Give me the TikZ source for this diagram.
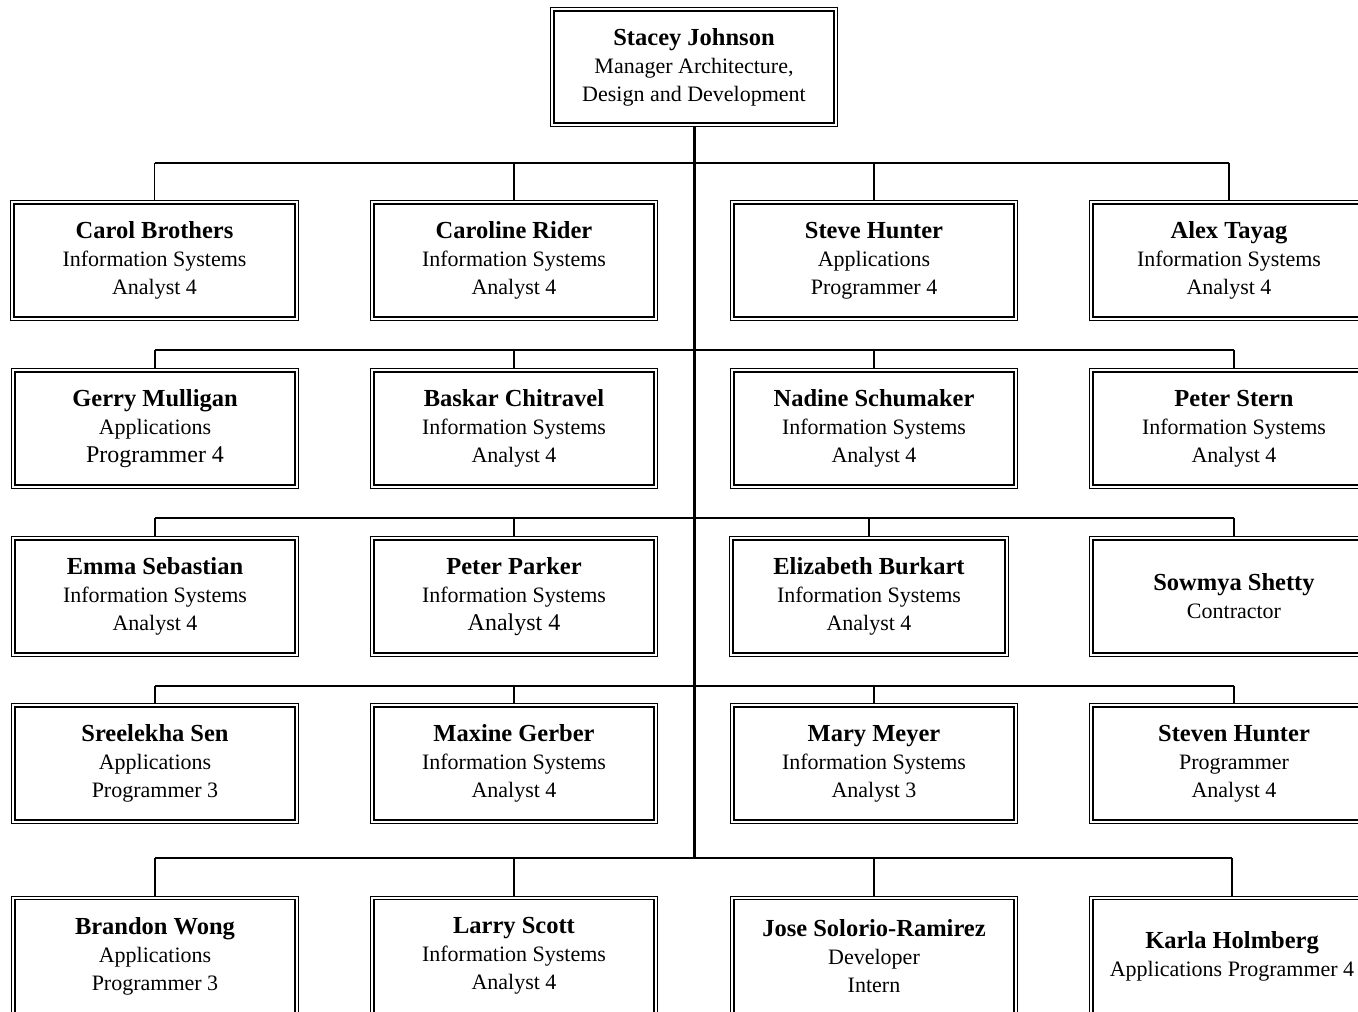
\documentclass[tikz,border=0pt]{standalone}
\usepackage{fontspec}
\setmainfont{Liberation Serif}
\usetikzlibrary{backgrounds}
\tikzset{
  pbox/.style={draw=black, double=white, double distance=2pt, line width=1.3pt,
    fill=white, inner sep=0pt, align=center, minimum height=116.4pt,
    minimum width=283.4pt, font=\fontsize{22}{28}\selectfont},
  busline/.style={line width=2pt},
  dropline/.style={line width=1.6pt},
  trunkline/.style={line width=3pt},
}
\newcommand{\nm}[1]{{\bfseries\fontsize{24.5}{28}\selectfont #1}}
\newcommand{\bigline}[1]{{\fontsize{24}{28}\selectfont #1}}
\begin{document}
\begin{tikzpicture}[x=1pt,y=-1pt]
\useasboundingbox (0,0) rectangle (1358,1012);
\clip (0,0) rectangle (1358,1012);

\node[pbox, minimum height=115.4pt] (top) at (694,67)
  {\nm{Stacey Johnson}\\Manager Architecture,\\Design and Development};

% row 1
\node[pbox, minimum width=284.4pt] (b11) at (154.5,260.5) {\nm{Carol Brothers}\\Information Systems\\Analyst 4};
\node[pbox] (b12) at (514,260.5) {\nm{Caroline Rider}\\Information Systems\\Analyst 4};
\node[pbox] (b13) at (874,260.5) {\nm{Steve Hunter}\\Applications\\Programmer 4};
\node[pbox, minimum width=275.4pt] (b14) at (1229,260.5) {\nm{Alex Tayag}\\Information Systems\\Analyst 4};

% row 2
\node[pbox] (b21) at (155,428.5) {\nm{Gerry Mulligan}\\Applications\\\bigline{Programmer 4}};
\node[pbox] (b22) at (514,428.5) {\nm{Baskar Chitravel}\\Information Systems\\Analyst 4};
\node[pbox] (b23) at (874,428.5) {\nm{Nadine Schumaker}\\Information Systems\\Analyst 4};
\node[pbox, minimum width=285.4pt] (b24) at (1234,428.5) {\nm{Peter Stern}\\Information Systems\\Analyst 4};

% row 3
\node[pbox] (b31) at (155,596.5) {\nm{Emma Sebastian}\\Information Systems\\Analyst 4};
\node[pbox] (b32) at (514,596.5) {\nm{Peter Parker}\\Information Systems\\\bigline{Analyst 4}};
\node[pbox, minimum width=275.4pt] (b33) at (869,596.5) {\nm{Elizabeth Burkart}\\Information Systems\\Analyst 4};
\node[pbox, minimum width=285.4pt] (b34) at (1234,596.5) {\nm{Sowmya Shetty}\\Contractor};

% row 4
\node[pbox] (b41) at (155,763.5) {\nm{Sreelekha Sen}\\Applications\\Programmer 3};
\node[pbox] (b42) at (514,763.5) {\nm{Maxine Gerber}\\Information Systems\\Analyst 4};
\node[pbox] (b43) at (874,763.5) {\nm{Mary Meyer}\\Information Systems\\Analyst 3};
\node[pbox, minimum width=285.4pt] (b44) at (1234,763.5) {\nm{Steven Hunter}\\Programmer\\Analyst 4};

% row 5
\node[pbox] (b51) at (155,956) {\nm{Brandon Wong}\\Applications\\Programmer 3};
\node[pbox] (b52) at (514,956) {\nm{Larry Scott}\\Information Systems\\Analyst 4};
\node[pbox] (b53) at (874,956) {\nm{Jose Solorio-Ramirez}\\Developer\\Intern};
\node[pbox, minimum width=281.4pt] (b54) at (1232,956) {\nm{Karla Holmberg}\\Applications Programmer 4};

\begin{scope}[on background layer]
  \fill[white] (0,0) rectangle (1358,1012);
  \coordinate (r1) at (0,163);
  \coordinate (r2) at (0,350);
  \coordinate (r3) at (0,518);
  \coordinate (r4) at (0,686);
  \coordinate (r5) at (0,858);
  \coordinate (tend) at (694,858);
  \draw[trunkline] (top.south) -- (tend);
  \foreach \r in {1,...,5}{
    \draw[busline] (b\r1.north |- r\r) -- (b\r4.north |- r\r);
    \foreach \c in {1,...,4}{
      \draw[dropline] (b\r\c.north) -- (b\r\c.north |- r\r);
    }
  }
\end{scope}
\end{tikzpicture}
\end{document}
